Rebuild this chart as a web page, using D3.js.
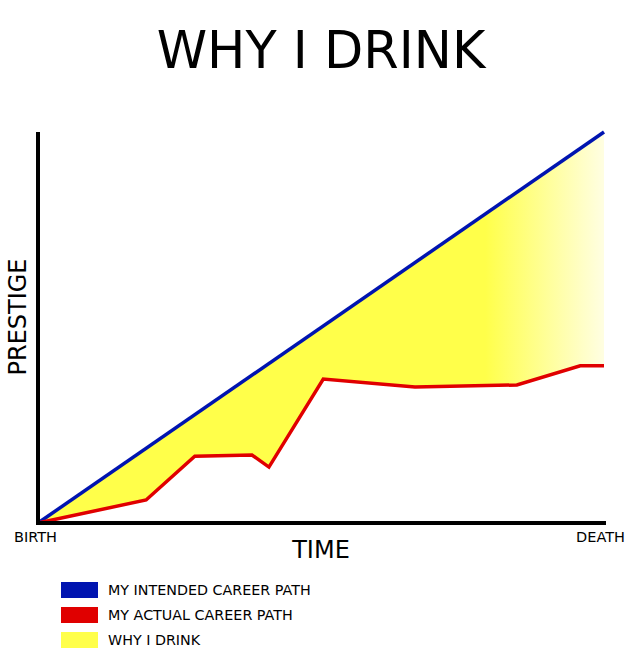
<!DOCTYPE html>
<html>
<head>
<meta charset="utf-8">
<script src="https://cdn.jsdelivr.net/npm/d3@7"></script>
<style>
  body { margin: 0; background: #fff; }
  text { font-family: 'DejaVu Sans', Verdana, sans-serif; fill: #000; }
</style>
</head>
<body>
<div id="graph"></div>
<script>
// data: time (0 = birth, 100 = death) vs prestige (0..100)
const intendedTime = [0, 100];
const intendedPrestige = [0, 100];
const actualTime = [0, 19.1, 27.7, 37.8, 40.8, 50.4, 66.6, 84.6, 95.8, 100];
const actualPrestige = [0, 5.9, 17.1, 17.4, 14.3, 36.8, 34.8, 35.3, 40.2, 40.2];
const legendLabels = ['MY INTENDED CAREER PATH', 'MY ACTUAL CAREER PATH', 'WHY I DRINK'];
const xTickLabels = ['BIRTH', 'DEATH'];

const colors = {
  blue: '#0014b0',
  red: '#e00000',
  yellow: '#ffff4a',
  paleYellow: '#fffee2',
};

const width = 643;
const height = 655;

const svg = d3.select('#graph')
  .append('svg')
  .attr('width', width)
  .attr('height', height);

const x = d3.scaleLinear().domain([0, 100]).range([38, 604]);
const y = d3.scaleLinear().domain([0, 100]).range([523, 132]);

const intended = intendedTime.map((t, i) => ({ t, p: intendedPrestige[i] }));
const actual = actualTime.map((t, i) => ({ t, p: actualPrestige[i] }));
const intendedAt = d3.scaleLinear().domain(intendedTime).range(intendedPrestige);

// gradient for the "why I drink" area
const grad = svg.append('defs').append('linearGradient')
  .attr('id', 'drink')
  .attr('gradientUnits', 'userSpaceOnUse')
  .attr('x1', x(0)).attr('x2', x(100))
  .attr('y1', 0).attr('y2', 0);
grad.append('stop').attr('offset', '0%').attr('stop-color', colors.yellow);
grad.append('stop').attr('offset', '79%').attr('stop-color', colors.yellow);
grad.append('stop').attr('offset', '100%').attr('stop-color', colors.paleYellow);

svg.append('path')
  .datum(actual)
  .attr('fill', 'url(#drink)')
  .attr('d', d3.area()
    .x((d) => x(d.t))
    .y0((d) => y(d.p))
    .y1((d) => y(intendedAt(d.t))));

// lines
svg.append('path')
  .datum(intended)
  .attr('fill', 'none')
  .attr('stroke', colors.blue)
  .attr('stroke-width', 3.5)
  .attr('d', d3.line().x((d) => x(d.t)).y((d) => y(d.p)));

svg.append('path')
  .datum(actual)
  .attr('fill', 'none')
  .attr('stroke', colors.red)
  .attr('stroke-width', 3.5)
  .attr('d', d3.line().x((d) => x(d.t)).y((d) => y(d.p)));

// axes
const xAxis = svg.append('g')
  .attr('transform', `translate(0,${y(0)})`)
  .call(d3.axisBottom(x).tickValues([]).tickSizeOuter(0));
xAxis.select('.domain')
  .attr('d', `M${x(0) - 2},0H${x(100) + 2}`)
  .attr('stroke', '#000')
  .attr('stroke-width', 4);

const yAxis = svg.append('g')
  .attr('transform', `translate(${x(0)},0)`)
  .call(d3.axisLeft(y).tickValues([]).tickSizeOuter(0));
yAxis.select('.domain')
  .attr('d', `M0,${y(100)}V${y(0) + 2}`)
  .attr('stroke', '#000')
  .attr('stroke-width', 4);

// end labels
svg.append('text')
  .attr('x', 14).attr('y', 542)
  .attr('font-size', 14.5)
  .text(xTickLabels[0]);
svg.append('text')
  .attr('x', 625).attr('y', 542)
  .attr('text-anchor', 'end')
  .attr('font-size', 14.5)
  .text(xTickLabels[1]);

// titles
svg.append('text')
  .attr('x', 321).attr('y', 68)
  .attr('text-anchor', 'middle')
  .attr('font-size', 51)
  .text('WHY I DRINK');

svg.append('text')
  .attr('x', 321).attr('y', 558)
  .attr('text-anchor', 'middle')
  .attr('font-size', 24)
  .text('TIME');

svg.append('text')
  .attr('transform', 'translate(26,317) rotate(-90)')
  .attr('text-anchor', 'middle')
  .attr('font-size', 24)
  .text('PRESTIGE');

// legend
const legend = svg.append('g').attr('transform', 'translate(61,582)');
const legendColors = [colors.blue, colors.red, colors.yellow];
legendLabels.forEach((label, i) => {
  const g = legend.append('g').attr('transform', `translate(0,${i * 25})`);
  g.append('rect')
    .attr('width', 37).attr('height', 16)
    .attr('fill', legendColors[i]);
  g.append('text')
    .attr('x', 47).attr('y', 13)
    .attr('font-size', 14.3)
    .text(label);
});
</script>
</body>
</html>
